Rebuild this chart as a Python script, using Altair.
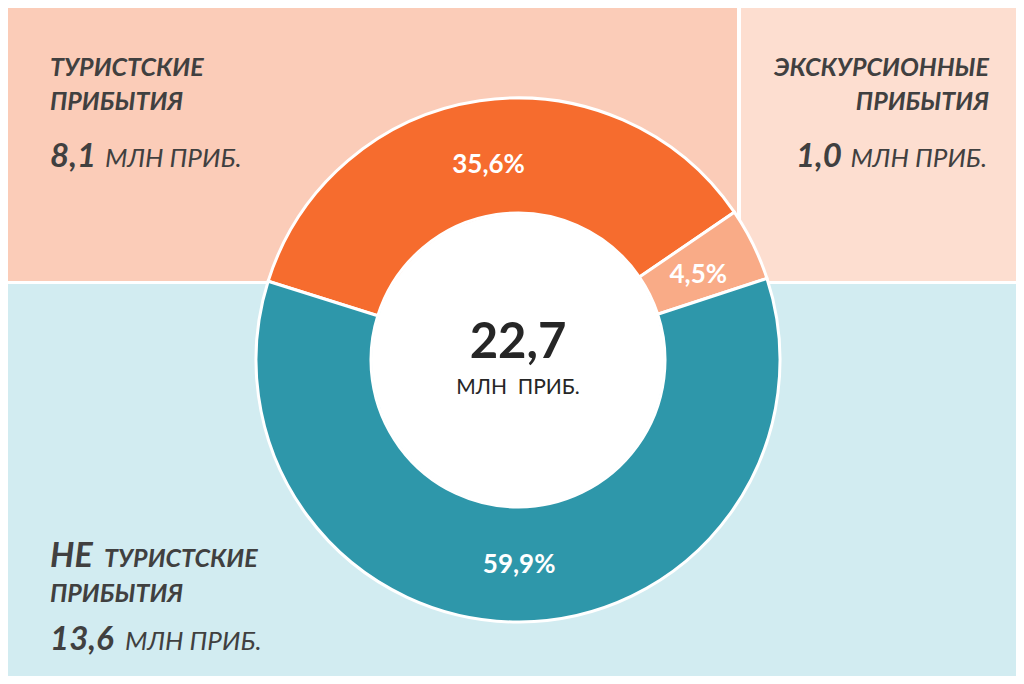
import math
import altair as alt
import pandas as pd

# ---- data ----
categories = ["Туристские прибытия", "Экскурсионные прибытия", "НЕ туристские прибытия"]
shares = [35.6, 4.5, 59.9]
share_labels = ["35,6%", "4,5%", "59,9%"]
slice_colors = ["#F66C2E", "#F9AB87", "#2E97AA"]

total_value = "22,7"
total_unit = "МЛН\u00a0 ПРИБ."
unit = "МЛН ПРИБ."
tour_lines = ["ТУРИСТСКИЕ", "ПРИБЫТИЯ"]
tour_value = "8,1"
exc_lines = ["ЭКСКУРСИОННЫЕ", "ПРИБЫТИЯ"]
exc_value = "1,0"
non_prefix = "НЕ"
non_lines = ["ТУРИСТСКИЕ", "ПРИБЫТИЯ"]
non_value = "13,6"

FONT = "Lato"
DARK = "#404040"

df = pd.DataFrame({
    "category": categories,
    "share": shares,
    "label": share_labels,
    "idx": list(range(len(categories))),
})

one = pd.DataFrame({"k": [0]})

CX, CY = 510, 352  # donut centre (chart coords)
start = math.radians(-72.5)
theta_scale = alt.Scale(range=[start, start + 2 * math.pi])


def rect(x, x2, y, y2, color):
    return alt.Chart(one).mark_rect(color=color).encode(
        x=alt.value(x), x2=alt.value(x2), y=alt.value(y), y2=alt.value(y2)
    )


def txt(s, x, y, size, weight="bold", italic=True, align="left", color=DARK):
    return alt.Chart(one).mark_text(
        text=s, font=FONT, fontSize=size, fontWeight=weight,
        fontStyle="italic" if italic else "normal",
        align=align, baseline="alphabetic", color=color,
    ).encode(x=alt.value(x), y=alt.value(y))


bg = [
    rect(-1, 729, -1, 273, "#FBCCB8"),
    rect(733, 1008, -1, 273, "#FDDED0"),
    rect(-1, 1008, 276, 668, "#D2ECF1"),
]

base = alt.Chart(df).encode(
    theta=alt.Theta("share:Q", stack=True, scale=theta_scale),
    order=alt.Order("idx:Q"),
)

arcs = base.mark_arc(radius=262, radius2=147, stroke="white", strokeWidth=3).encode(
    color=alt.Color("category:N", scale=alt.Scale(domain=categories, range=slice_colors), legend=None),
    x=alt.value(CX), y=alt.value(CY),
)

labels = base.mark_text(
    radius=201, dy=4, font=FONT, fontSize=26, fontWeight="bold", color="white",
    align="center", baseline="middle",
).encode(text="label:N", x=alt.value(CX), y=alt.value(CY))

hole = alt.Chart(one).mark_arc(color="white", radius=146).encode(
    theta=alt.value(0), theta2=alt.value(2 * math.pi), x=alt.value(CX), y=alt.value(CY)
)

ann = [
    txt(total_value, CX, 350, 49, italic=False, align="center", color="#262626"),
    txt(total_unit, CX, 386, 21, weight="normal", italic=False, align="center", color="#262626"),
    # tourist
    txt(tour_lines[0], 42, 68, 25),
    txt(tour_lines[1], 42, 102, 25),
    txt(tour_value, 42, 159, 33),
    txt(unit, 97, 159, 26, weight="normal"),
    # excursion
    txt(exc_lines[0], 981, 68, 25, align="right"),
    txt(exc_lines[1], 981, 102, 25, align="right"),
    txt(unit, 979, 159, 26, weight="normal", align="right"),
    txt(exc_value, 834, 159, 33, align="right"),
    # non tourist
    txt(non_prefix, 42, 559, 34),
    txt(non_lines[0], 96, 559, 25),
    txt(non_lines[1], 42, 594, 25),
    txt(non_value, 42, 642, 33),
    txt(unit, 117, 642, 26, weight="normal"),
]

chart = alt.layer(*bg, arcs, hole, labels, *ann).properties(
    width=1008, height=668, padding=0, autosize="none"
).configure_view(stroke=None)

chart.save("out.html", embed_options={"renderer": "svg", "actions": False})
